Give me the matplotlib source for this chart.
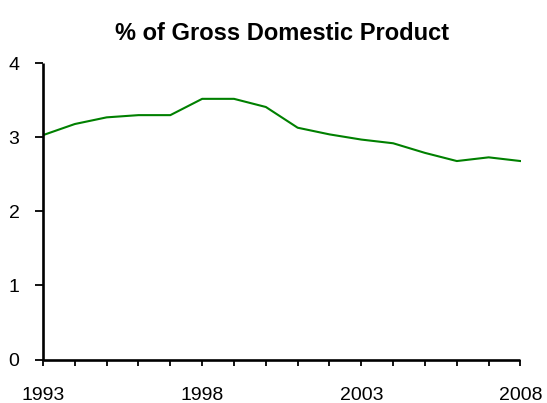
import matplotlib
matplotlib.use("Agg")
import matplotlib.pyplot as plt
from matplotlib.ticker import MultipleLocator

plt.rcParams["font.family"] = ["Liberation Sans", "DejaVu Sans"]

years = list(range(1993, 2009))
gdp_share = [3.03, 3.18, 3.27, 3.30, 3.30, 3.52, 3.52, 3.41,
             3.13, 3.04, 2.97, 2.92, 2.79, 2.68, 2.73, 2.68]
year_labels = [1993, 1998, 2003, 2008]
y_ticks = [0, 1, 2, 3, 4]

W, H = 547, 403
fig = plt.figure(figsize=(W / 100, H / 100), dpi=100)
left, right, top, bottom = 43, 520.5, 63.3, 359.5
ax = fig.add_axes([left / W, (H - bottom) / H, (right - left) / W, (bottom - top) / H])

ax.plot(years, gdp_share, color="#008000", linewidth=1.5)

ax.set_xlim(years[0], years[-1])
ax.set_ylim(0, 4)
ax.set_yticks(y_ticks)
ax.set_xticks(year_labels)
ax.xaxis.set_minor_locator(MultipleLocator(1))

for side in ("top", "right"):
    ax.spines[side].set_visible(False)
for side in ("left", "bottom"):
    ax.spines[side].set_linewidth(1.9)
    ax.spines[side].set_color("black")
    ax.spines[side].set_capstyle("butt")

ax.tick_params(axis="y", which="major", direction="out", length=6, width=1.3,
               labelsize=14, pad=11)
ax.tick_params(axis="x", which="both", direction="out", length=4.5, width=1.3,
               labelsize=14, pad=15.5)

ax.set_title("% of Gross Domestic Product", fontsize=17, fontweight="bold", pad=17)

fig.savefig("out.png", dpi=100)
